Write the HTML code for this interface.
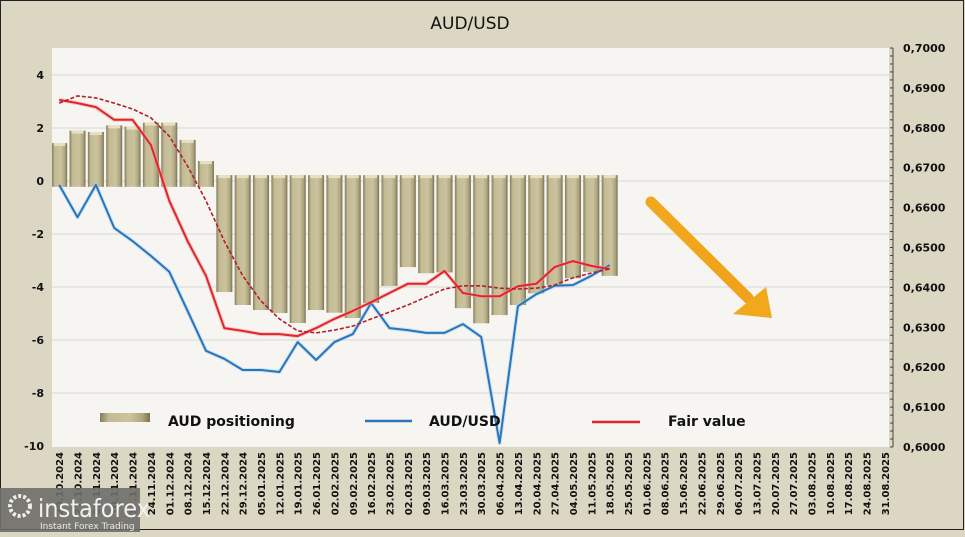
<!DOCTYPE html>
<html><head><meta charset="utf-8">
<style>
html,body{margin:0;padding:0;background:#dcd7c2;}
body{width:965px;height:532px;overflow:hidden;font-family:"Liberation Sans",sans-serif;}
svg text{font-family:"DejaVu Sans","Liberation Sans",sans-serif;}
</style></head>
<body>
<svg id="chart" width="965" height="532" viewBox="0 0 965 532" xmlns="http://www.w3.org/2000/svg">
<defs>
<linearGradient id="barg" x1="0" x2="1" y1="0" y2="0">
<stop offset="0" stop-color="#857d5b"/><stop offset="0.18" stop-color="#c4bb94"/><stop offset="0.6" stop-color="#cbc39e"/><stop offset="0.85" stop-color="#aea57f"/><stop offset="1" stop-color="#777052"/>
</linearGradient>
<linearGradient id="arrg" x1="0" x2="1" y1="0" y2="1">
<stop offset="0" stop-color="#f2a81c"/><stop offset="1" stop-color="#f0a21a"/>
</linearGradient>
</defs>
<rect x="0.5" y="0.5" width="963" height="529" fill="#dcd7c2" stroke="#222" stroke-width="1"/>
<text x="470" y="29" font-size="17" text-anchor="middle" fill="#111">AUD/USD</text>
<rect x="52" y="48" width="837" height="399" fill="#f6f5f1"/>
<g id="grid"></g>
<g id="bars"></g>
<g id="lines"></g>
<g id="axes"></g>
<g>
<rect x="100" y="413" width="50" height="9" fill="url(#barg)"/>
<text x="168" y="426" font-size="14" font-weight="bold" fill="#111">AUD positioning</text>
<line x1="365" y1="421" x2="412" y2="421" stroke="#2a74b8" stroke-width="2.5"/>
<text x="429" y="426" font-size="14" font-weight="bold" fill="#111">AUD/USD</text>
<line x1="592" y1="422" x2="640" y2="422" stroke="#e0262b" stroke-width="2.5"/>
<text x="668" y="426" font-size="14" font-weight="bold" fill="#111">Fair value</text>
</g>
<g>
<line x1="651" y1="202" x2="748" y2="298" stroke="url(#arrg)" stroke-width="11" stroke-linecap="round"/>
<polygon points="733,314 766,287 772,318" fill="#f2a81c"/>
</g>
<g>
<rect x="0" y="488" width="140" height="44" fill="#6e6e6a" opacity="0.9"/>
<circle cx="20" cy="506" r="10" fill="none" stroke="#eee" stroke-width="4" stroke-dasharray="3 2"/>
<text x="38" y="517" font-size="25" fill="#f2f2f2" font-family="Liberation Sans" textLength="112" lengthAdjust="spacingAndGlyphs">instaforex</text>
<text x="40" y="529" font-size="9" fill="#e8e8e8" font-family="Liberation Sans">Instant Forex Trading</text>
</g>
</svg>
<script>
const categories=["20.10.2024","27.10.2024","03.11.2024","10.11.2024","17.11.2024","24.11.2024","01.12.2024","08.12.2024","15.12.2024","22.12.2024","29.12.2024","05.01.2025","12.01.2025","19.01.2025","26.01.2025","02.02.2025","09.02.2025","16.02.2025","23.02.2025","02.03.2025","09.03.2025","16.03.2025","23.03.2025","30.03.2025","06.04.2025","13.04.2025","20.04.2025","27.04.2025","04.05.2025","11.05.2025","18.05.2025","25.05.2025","01.06.2025","08.06.2025","15.06.2025","22.06.2025","29.06.2025","06.07.2025","13.07.2025","20.07.2025","27.07.2025","03.08.2025","10.08.2025","17.08.2025","24.08.2025","31.08.2025"];
const positioning=[1.43,1.9,1.85,2.1,2.05,2.2,2.2,1.55,0.75,-4.19,-4.68,-4.87,-4.98,-5.36,-4.87,-4.97,-5.17,-4.6,-3.96,-3.25,-3.48,-3.45,-4.8,-5.37,-5.06,-4.68,-4.24,-3.92,-3.67,-3.43,-3.58];
const audusd=[0.6657,0.6576,0.6657,0.6549,0.6516,0.6479,0.6439,0.6341,0.6241,0.6221,0.6193,0.6193,0.6188,0.6263,0.6218,0.6263,0.6283,0.6361,0.6298,0.6293,0.6286,0.6286,0.6308,0.6276,0.6010,0.6353,0.6383,0.6404,0.6406,0.6429,0.6456];
const fairValue=[0.6870,0.6862,0.6852,0.6820,0.6820,0.6757,0.6617,0.6516,0.6429,0.6298,0.6291,0.6283,0.6283,0.6278,0.6298,0.6321,0.6341,0.6363,0.6386,0.6409,0.6409,0.6441,0.6386,0.6378,0.6378,0.6403,0.6409,0.6451,0.6466,0.6454,0.6446];
const fairTrend=[0.6862,0.6880,0.6875,0.6862,0.6847,0.6825,0.6779,0.6704,0.6617,0.6516,0.6429,0.6366,0.6321,0.6291,0.6286,0.6293,0.6303,0.6321,0.6338,0.6356,0.6376,0.6396,0.6404,0.6404,0.6398,0.6396,0.6398,0.6406,0.6424,0.6436,0.6446];
const leftTicks=[4,2,0,-2,-4,-6,-8,-10];
const rightTicks=[0.70,0.69,0.68,0.67,0.66,0.65,0.64,0.63,0.62,0.61,0.60];

const NS="http://www.w3.org/2000/svg";
const X0=50,BAND=18.35,TOP=48,BOT=447,L=52,R=889;
const xC=i=>X0+BAND*(i+0.5);
const yL=v=>181-v*26.5;
const yR=v=>447-(v-0.6)/0.1*399;
function mk(tag,attrs,parent){const e=document.createElementNS(NS,tag);for(const k in attrs)e.setAttribute(k,attrs[k]);parent.appendChild(e);return e;}
const grid=document.getElementById('grid'),bars=document.getElementById('bars'),lines=document.getElementById('lines'),axes=document.getElementById('axes');
leftTicks.forEach(t=>{
  if(t>-10){const g=mk('line',{x1:L,x2:R,y1:yL(t),y2:yL(t),stroke:'#d6d6d2','stroke-width':1},grid);
  
  }
  const tx=mk('text',{x:44,y:yL(t)+4,'font-size':11,'font-weight':'bold','text-anchor':'end',fill:'#111'},axes);
  tx.textContent=String(t);
  
  
});
rightTicks.forEach(t=>{
  const tx=mk('text',{x:903,y:yR(t)+4,'font-size':11,'font-weight':'bold',fill:'#111'},axes);
  tx.textContent=t.toFixed(4).replace('.',',');
  
  
});
const ax=mk('line',{x1:893,x2:893,y1:TOP,y2:BOT,stroke:'#444','stroke-width':1},axes);


for(let k=0;k<=50;k++){const yy=TOP+k*399/50;mk('line',{x1:890,x2:893,y1:yy,y2:yy,stroke:'#444','stroke-width':1},axes);}
categories.forEach((c,i)=>{
  const x=xC(i)+4;
  const tx=mk('text',{x:x,y:452,'font-size':10,'font-weight':'bold','text-anchor':'end',fill:'#111',transform:`rotate(-90 ${x} 452)`},axes);
  tx.textContent=c;
  
  
});
positioning.forEach((v,i)=>{
  const base=v>=0?yL(-0.22):yL(0.22);
  const yv=yL(v);
  const y=Math.min(base,yv),h=Math.abs(base-yv);
  const x=xC(i)-8;
  const r=mk('rect',{x:Math.max(x,L),y:y,width:16-(Math.max(x,L)-x),height:h,fill:'url(#barg)'},bars);
  
  
  mk('rect',{x:Math.max(x,L)+2,y:y,width:12-(Math.max(x,L)-x),height:3,fill:'#e6dfc0'},bars);
});
function path(arr,fn,attrs,name){
  const d=arr.map((v,i)=>(i?'L':'M')+xC(i).toFixed(1)+','+fn(v).toFixed(1)).join(' ');
  const p=mk('path',Object.assign({d:d,fill:'none','stroke-linejoin':'round'},attrs),lines);
  
  
}
path(audusd,yR,{stroke:'#9fd0f5','stroke-width':4,opacity:0.5},'audusd-glow');
path(audusd,yR,{stroke:'#2a74b8','stroke-width':2},'audusd-line');
path(fairValue,yR,{stroke:'#f4a0a0','stroke-width':4,opacity:0.5},'fair-value-glow');
path(fairValue,yR,{stroke:'#e0262b','stroke-width':2},'fair-value-line');
path(fairTrend,yR,{stroke:'#b0202a','stroke-width':1.6,'stroke-dasharray':'4 2'},'fair-value-trend-line');
</script>
</body></html>
